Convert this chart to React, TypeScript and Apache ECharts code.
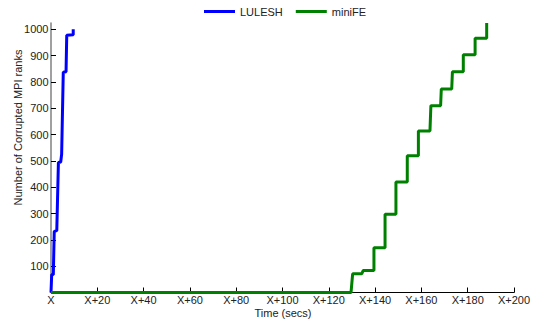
import React, { useEffect, useRef } from "react";
import * as echarts from "echarts";

const luleshX = [0, 0.3, 1, 1.4, 2.5, 3.2, 4.2, 4.6, 5.3, 6.5, 6.8, 9.6, 9.6];
const luleshY = [0, 68, 68, 232, 235, 494, 496, 526, 837, 839, 977, 979, 1000];

const minifeX = [0, 129.6, 130.3, 134.2, 134.9, 139.5, 139.5, 144.3, 144.3, 149.0, 149.0, 153.9, 153.9, 158.7, 158.7, 163.7, 164.1, 168.3, 168.6, 173.1, 173.4, 178.1, 178.1, 183.2, 183.2, 188.2, 188.2];
const minifeY = [0, 0, 71, 71, 84, 84, 170, 170, 297, 297, 420, 420, 520, 520, 614, 614, 710, 710, 773, 773, 839, 839, 903, 903, 966, 966, 1024];

const xTicks = [0, 20, 40, 60, 80, 100, 120, 140, 160, 180, 200];
const yLabelValues = [100, 200, 300, 400, 500, 600, 700, 800, 900, 1000];
const yTickValues = [0, 100, 200, 300, 400, 500, 600, 700, 800, 900, 1000];

const FONT = "Liberation Sans";

export default function App() {
  const ref = useRef<HTMLDivElement>(null);
  useEffect(() => {
    if (!ref.current) return;
    const chart = echarts.init(ref.current, undefined, { renderer: "svg" });
    const zip = (xs: number[], ys: number[]) => xs.map((x, i) => [x, ys[i]]);
    chart.setOption({
      animation: false,
      backgroundColor: "#ffffff",
      textStyle: { fontFamily: FONT },
      legend: {
        left: 199,
        top: 1,
        itemWidth: 31,
        itemHeight: 3,
        itemGap: 13,
        icon: "rect",
        textStyle: { fontFamily: FONT, fontSize: 11, color: "#222" },
        data: ["LULESH", "miniFE"],
      },
      grid: { left: 51, right: 23, top: 23, bottom: 27.5, containLabel: false, outerBoundsMode: "none" },
      xAxis: {
        type: "value",
        min: 0,
        max: 200,
        interval: 20,
        splitLine: { show: false },
        axisLine: { lineStyle: { color: "#000", width: 1.2 } },
        axisTick: { inside: true, length: 5, lineStyle: { color: "#000" }, customValues: xTicks },
        axisLabel: {
          customValues: xTicks,
          fontFamily: FONT,
          fontSize: 11,
          color: "#222",
          margin: 2,
          formatter: (v: number) => (v === 0 ? "X" : "X+" + v),
        },
      },
      yAxis: {
        type: "value",
        min: 0,
        max: 1024,
        splitLine: { show: false },
        axisLine: { show: true, lineStyle: { color: "#808080", width: 1.5 } },
        axisTick: { show: true, inside: true, length: 5, lineStyle: { color: "#000" }, customValues: yTickValues },
        axisLabel: {
          customValues: yLabelValues,
          fontFamily: FONT,
          fontSize: 11,
          color: "#222",
          margin: 2.5,
          formatter: (v: number) => String(v),
        },
      },
      graphic: [
        {
          type: "text",
          x: 17.5,
          y: 127.5,
          rotation: Math.PI / 2,
          style: {
            text: "Number of Corrupted MPI ranks",
            fontFamily: FONT,
            fontSize: 11,
            fill: "#222",
            align: "center",
            verticalAlign: "middle",
          },
        },
        {
          type: "text",
          x: 283,
          y: 313,
          style: {
            text: "Time (secs)",
            fontFamily: FONT,
            fontSize: 11,
            fill: "#222",
            align: "center",
            verticalAlign: "middle",
          },
        },
      ],
      series: [
        {
          name: "LULESH",
          type: "line",
          data: zip(luleshX, luleshY),
          showSymbol: false,
          symbol: "none",
          clip: false,
          color: "#0000ff",
          lineStyle: { color: "#0000ff", width: 3 },
        },
        {
          name: "miniFE",
          type: "line",
          data: zip(minifeX, minifeY),
          showSymbol: false,
          symbol: "none",
          clip: false,
          color: "#008000",
          lineStyle: { color: "#008000", width: 3 },
        },
      ],
    });
    return () => chart.dispose();
  }, []);
  return <div ref={ref} style={{ width: 537, height: 320, position: "absolute", left: 0, top: 0 }} />;
}
